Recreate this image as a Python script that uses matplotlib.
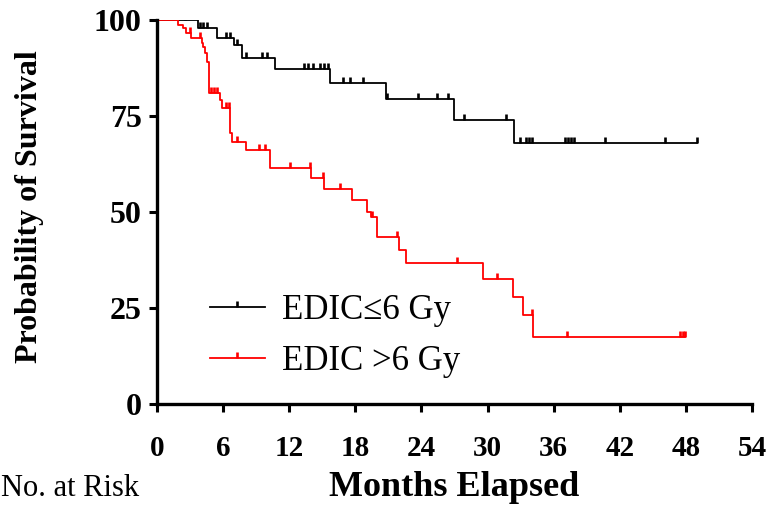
import matplotlib
matplotlib.use("Agg")
import matplotlib.pyplot as plt
from matplotlib.lines import Line2D

plt.rcParams['font.family'] = ['Liberation Serif', 'DejaVu Serif']

# ---- data (months, % survival) ----
low_times = [0, 3.7, 5.4, 7.0, 7.7, 10.7, 15.7, 20.8, 27.0, 32.4, 49.0]
low_surv = [100, 97.8, 95.2, 93.6, 90.0, 87.2, 83.5, 79.5, 74.0, 68.0, 68.0]
low_cens_t = [2.5, 3.9, 4.2, 4.5, 6.3, 6.6, 7.3, 8.1, 9.5, 10.0, 13.3, 13.7, 14.2,
              14.8, 15.2, 15.5, 16.9, 17.5, 18.7, 20.9, 23.7, 25.4, 26.4, 27.9,
              31.7, 32.9, 33.5, 33.8, 34.0, 37.0, 37.3, 37.6, 37.8, 40.7, 46.1, 49.0]

high_times = [0, 1.9, 2.4, 2.6, 3.1, 4.05, 4.2, 4.36, 4.55, 4.7, 5.7, 5.9, 6.6, 6.8,
              8.1, 10.25, 14.0, 15.2, 17.7, 19.1, 19.4, 20.0, 22.0, 22.6, 29.6,
              32.3, 33.2, 34.1, 47.9]
high_surv = [100, 98.7, 97.8, 96.5, 95.2, 93.9, 93.0, 91.3, 89.1, 81.0, 79.2, 77.0,
             70.5, 68.3, 66.1, 61.4, 58.8, 55.9, 53.1, 50.1, 48.8, 43.6, 40.1, 36.6,
             32.6, 27.9, 23.3, 17.5, 17.5]
high_cens_t = [3.0, 3.9, 4.9, 5.2, 5.4, 6.3, 6.5, 7.3, 9.3, 9.8, 12.1, 13.9, 15.1,
               16.6, 19.5, 21.8, 27.2, 30.9, 34.0, 37.2, 47.5, 47.7, 47.9]

x_ticks = [0, 6, 12, 18, 24, 30, 36, 42, 48, 54]
y_ticks = [0, 25, 50, 75, 100]
labels = ['EDIC\u22646 Gy', 'EDIC >6 Gy']
colors = ['black', '#ff0000']


def surv_at(times, surv, t):
    s = surv[0]
    for ti, si in zip(times, surv):
        if ti <= t:
            s = si
    return s


fig = plt.figure(figsize=(7.74, 5.05), dpi=100)
ax = fig.add_axes([157 / 774, 1 - 404 / 505, (752 - 157) / 774, (404 - 20) / 505])

tick_marker = [(0, 0), (0, 1)]
for times, surv, cens, col in [(low_times, low_surv, low_cens_t, colors[0]),
                               (high_times, high_surv, high_cens_t, colors[1])]:
    ax.step(times, surv, where='post', color=col, lw=1.3, zorder=3)
    cy = [surv_at(times, surv, t) for t in cens]
    ax.plot(cens, cy, ls='none', marker=tick_marker, ms=9, mew=1.9,
            color=col, zorder=4)

ax.set_xlim(0, 54)
ax.set_ylim(0, 100)
ax.set_xticks(x_ticks)
ax.set_yticks(y_ticks)
ax.set_xticklabels([str(v) for v in x_ticks], fontweight='bold', fontsize=21)
ax.set_yticklabels([str(v) for v in y_ticks], fontweight='bold', fontsize=23)
ax.tick_params(direction='out', length=6, width=2.2)
ax.tick_params(axis='x', pad=16)
ax.tick_params(axis='y', pad=5)
for s in ['top', 'right']:
    ax.spines[s].set_visible(False)
for s in ['left', 'bottom']:
    ax.spines[s].set_linewidth(2.4)
ax.spines['left'].set_zorder(5)

ax.set_xlabel('Months Elapsed', fontweight='bold', fontsize=26, va='center', ha='center')
ax.xaxis.set_label_coords((454 - 157) / 595, -(487 - 404) / 384)
ax.set_ylabel('Probability of Survival', fontweight='bold', fontsize=23,
              va='center', ha='center')
ax.yaxis.set_label_coords((30 - 157) / 595, (404 - 207) / 384)

handles = [Line2D([0], [0], color=colors[0], lw=1.3, marker=tick_marker, ms=9, mew=1.9),
           Line2D([0], [0], color=colors[1], lw=1.3, marker=tick_marker, ms=9, mew=1.9)]
leg = fig.legend(handles, labels, loc='center left',
                 bbox_to_anchor=(210 / 774, 1 - 336 / 505), frameon=False,
                 fontsize=25, handlelength=1.58, handletextpad=0.48,
                 labelspacing=0.5, borderpad=0, borderaxespad=0, numpoints=1)

fig.text(1 / 774, 1 - 489 / 505, 'No. at Risk', fontsize=22, va='center', ha='left')

fig.savefig('out.png', dpi=100)
